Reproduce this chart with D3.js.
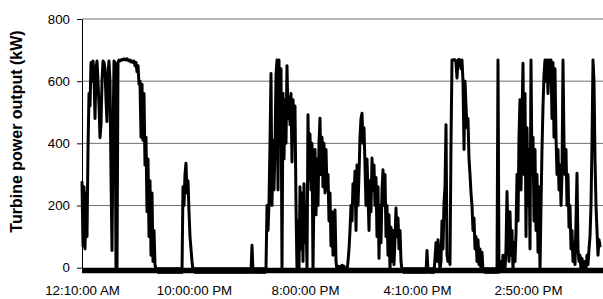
<!DOCTYPE html>
<html><head><meta charset="utf-8">
<script src="https://cdn.jsdelivr.net/npm/d3@7"></script>
<style>
body{margin:0;background:#fff}
svg{display:block}
text{font-family:"Liberation Sans",Arial,sans-serif;fill:#000}
</style>
</head><body>
<svg id="c" width="603" height="299"></svg>
<script>
// Turbine power output (kW), one reading per category step
const power = [
275,70,260,60,240,100,380,560,520,660,
600,665,620,480,640,665,600,520,418,460,
600,665,660,640,540,470,620,665,600,300,
55,420,665,660,-10,-12,660,668,
665,668,670,668,672,670,668,672,668,665,
668,662,665,660,665,650,660,630,650,590,
600,420,590,410,560,330,420,180,350,100,
280,40,240,20,120,10,-8,
-3,-15,-3,-15,-3,-15,-3,-15,-3,-15,-3,-15,-3,-15,-3,-15,-3,-15,-3,-15,-3,-15,-3,-15,-3,
-15,260,200,300,336,240,280,180,100,60,20,-8,
-3,-15,-3,-15,-3,-15,-3,-15,-3,-15,
-3,-15,-3,-15,-3,-15,-3,-15,-3,-15,
-3,-15,-3,-15,-3,-15,-3,-15,-3,-15,
-3,-15,-3,-15,-3,-15,-3,-15,-3,-15,
-3,-15,-3,-15,-3,-15,-3,-15,-3,-15,
-3,-15,-3,-15,-3,-15,-3,-15,
72,
-15,-3,-15,-3,-15,-3,-15,-3,-15,-3,-15,-3,-15,-3,
200,120,210,400,625,200,410,250,380,620,668,250,668,400,640,-10,
560,350,540,400,650,480,550,460,560,340,540,470,520,200,-10,
150,-8,260,60,240,20,270,80,200,-10,
492,280,430,250,400,-10,
250,380,170,350,200,400,481,
300,420,260,400,240,380,250,300,150,240,70,180,40,120,186,20,-8,
5,-10,4,-12,8,-6,5,-10,-2,-12,20,
60,120,200,150,270,230,310,120,330,200,
300,420,480,497,400,450,330,
200,350,240,120,280,180,353,250,330,200,290,100,260,30,200,80,250,
315,200,300,100,200,40,170,-8,130,20,120,10,90,192,100,160,60,120,20,-8,
-3,-15,-3,-15,-3,-15,-3,-15,-3,-15,
-3,-15,-3,-15,-3,-15,-3,-15,-3,-15,
-3,-15,-3,-15,
55,
-15,-3,-15,-3,-15,-3,-15,
30,80,20,90,40,-6,20,150,60,210,260,460,40,20,40,10,
400,668,668,670,668,660,610,668,670,665,
640,668,600,380,600,520,450,480,350,300,
240,200,120,160,60,100,
20,90,10,60,-8,50,-10,
-3,-15,-3,-15,-3,-15,-3,-15,-3,-15,-3,-15,-3,
-15,668,-15,
-3,20,-12,40,10,-6,60,245,100,20,
180,40,120,-8,80,20,110,
300,150,420,540,250,480,658,300,560,100,
450,200,380,60,668,300,420,150,380,120,
300,50,260,-10,
200,380,520,620,668,600,668,560,668,640,
668,480,660,420,640,
420,300,380,250,330,200,300,
668,400,300,380,200,300,130,200,60,120,
20,80,10,150,304,60,20,40,-6,30,
-3,-12,20,-6,40,10,60,100,200,400,
668,600,350,200,120,40,90,70
];
const tickIndex = [0, 112, 223, 335, 446];
const tickLabels = ["12:10:00 AM", "10:00:00 PM", "8:00:00 PM", "4:10:00 PM", "2:50:00 PM"];
const yTicks = [0, 200, 400, 600, 800];
const yTitle = "Turbine power output (kW)";

const svg = d3.select("#c");
svg.append("rect").attr("width", 603).attr("height", 299).attr("fill", "#fff");
const mLeft = 82, mRight = 603, mTop = 19, mBottom = 267.7;
const x = d3.scaleLinear().domain([0, power.length - 1]).range([mLeft, 600]);
const y = d3.scaleLinear().domain([0, 800]).range([mBottom, mTop]);

svg.append("g").selectAll("line").data(yTicks.filter(d => d > 0)).join("line")
  .attr("x1", mLeft).attr("x2", mRight)
  .attr("y1", d => y(d)).attr("y2", d => y(d))
  .attr("stroke", "#707070").attr("stroke-width", 1);

const ya = svg.append("g").attr("transform", `translate(${mLeft},0)`)
  .call(d3.axisLeft(y).tickValues(yTicks).tickSize(5).tickSizeOuter(0).tickPadding(7));
ya.select(".domain").attr("stroke", "#000");
ya.selectAll(".tick line").attr("stroke", "#000");
ya.selectAll("text").style("font-size", "13.3px").style("font-family", "'Liberation Sans',Arial,sans-serif");

svg.append("path").datum(power)
  .attr("d", d3.line().x((d, i) => x(i)).y(d => y(d)))
  .attr("fill", "none").attr("stroke", "#000").attr("stroke-width", 3)
  .attr("stroke-linejoin", "round").attr("stroke-linecap", "round");

// heavy category-axis line along the bottom of the plot
svg.append("line")
  .attr("x1", mLeft).attr("x2", mRight)
  .attr("y1", y(0) + 2.8).attr("y2", y(0) + 2.8)
  .attr("stroke", "#000").attr("stroke-width", 5.6);

const xa = svg.append("g").attr("transform", `translate(0,${mBottom})`)
  .call(d3.axisBottom(x).tickValues(tickIndex).tickFormat((d, i) => tickLabels[i]).tickSize(0).tickPadding(18));
xa.select(".domain").remove();
xa.selectAll("text").style("font-size", "13.3px").style("font-family", "'Liberation Sans',Arial,sans-serif");

svg.append("text")
  .attr("transform", "translate(22,131.5) rotate(-90)")
  .attr("text-anchor", "middle")
  .style("font-size", "16px").style("font-weight", "bold")
  .text(yTitle);
</script>
</body></html>
